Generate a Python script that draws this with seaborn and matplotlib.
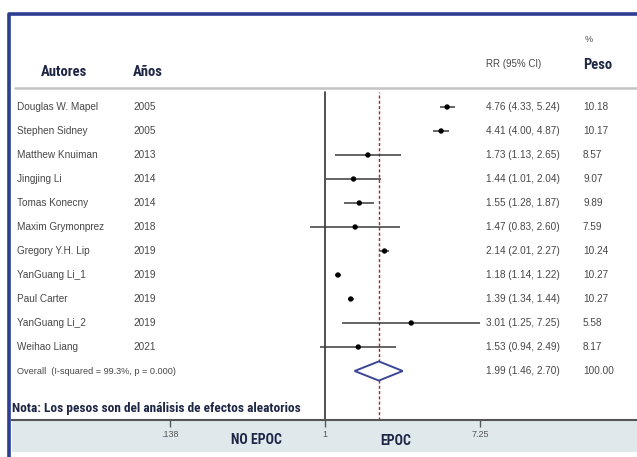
import numpy as np
import matplotlib
matplotlib.use("Agg")
import matplotlib.pyplot as plt
import seaborn as sns
from matplotlib import font_manager as fm
from matplotlib.transforms import blended_transform_factory
from matplotlib.lines import Line2D
from matplotlib.patches import Rectangle

# Study data
authors = ["Douglas W. Mapel", "Stephen Sidney", "Matthew Knuiman", "Jingjing Li",
           "Tomas Konecny", "Maxim Grymonprez", "Gregory Y.H. Lip", "YanGuang Li_1",
           "Paul Carter", "YanGuang Li_2", "Weihao Liang"]
years = ["2005", "2005", "2013", "2014", "2014", "2018", "2019", "2019", "2019", "2019", "2021"]
rr = [4.76, 4.41, 1.73, 1.44, 1.55, 1.47, 2.14, 1.18, 1.39, 3.01, 1.53]
ci_low = [4.33, 4.00, 1.13, 1.01, 1.28, 0.83, 2.01, 1.14, 1.34, 1.25, 0.94]
ci_high = [5.24, 4.87, 2.65, 2.04, 1.87, 2.60, 2.27, 1.22, 1.44, 7.25, 2.49]
weights = ["10.18", "10.17", "8.57", "9.07", "9.89", "7.59", "10.24", "10.27", "10.27", "5.58", "8.17"]

overall_label = "Overall  (I-squared = 99.3%, p = 0.000)"
overall_rr, overall_low, overall_high = 1.99, 1.46, 2.70
overall_weight = "100.00"

tick_values = [0.138, 1, 7.25]
tick_labels = [".138", "1", "7.25"]

W, H = 637, 457
sns.set_theme(style="white")
plt.rcParams["font.family"] = ["Liberation Sans", "DejaVu Sans"]

# narrowest installed family for the headings
installed = {f.name for f in fm.fontManager.ttflist}
condensed = [f for f in fm.fontManager.ttflist
             if f.stretch in ("condensed", "semi-condensed", "extra-condensed", 600, 500)
             or "Narrow" in f.name or "Condensed" in f.name]
narrow_names = ["Liberation Sans Narrow", "Roboto Condensed", "Open Sans Condensed",
                "DejaVu Sans Condensed", "Noto Sans Condensed"]
head_family = next((n for n in narrow_names if n in installed), None)
head_stretch = "normal"
if head_family is None:
    if any(f.name == "DejaVu Sans" and str(f.stretch) != "normal" for f in condensed):
        head_family, head_stretch = "DejaVu Sans", "condensed"
    else:
        head_family = "Roboto"
narrow_found = head_family != "Roboto"

fig = plt.figure(figsize=(W / 100, H / 100), dpi=100)
fig.patch.set_facecolor("white")

def fx(px):
    return px / W

def fy(py):
    return 1 - py / H

# plot area: from header rule (y=88) down to the axis line (y=420)
ax_left, ax_right, ax_top, ax_bottom = 12, 637, 88, 420
ax = fig.add_axes([fx(ax_left), fy(ax_bottom), fx(ax_right - ax_left), (ax_bottom - ax_top) / H])
ax.set_facecolor("none")
ax.set_zorder(2)

# log x scale: value 1 at x=325 px, 155 px per log(7.25)
x_null_px, px_per_span = 325, 155
k = np.log10(7.25) / px_per_span
ax.set_xscale("log")
ax.set_xlim(10 ** ((ax_left - x_null_px) * k), 10 ** ((ax_right - x_null_px) * k))

# rows: first study at y=107 px, 24 px per row
row_px0, row_step = 107, 24
n = len(authors)
rows = np.arange(1, n + 1)
overall_row = n + 1
ax.set_ylim(1 + (ax_bottom - row_px0) / row_step, 1 - (row_px0 - ax_top) / row_step)

# bottom band and frame
fig.patches.append(Rectangle((fx(12), fy(452)), fx(625), (452 - 421) / H,
                             transform=fig.transFigure, facecolor="#dfe9ec",
                             edgecolor="none", zorder=-1))
fig.lines.append(Line2D([fx(9), fx(9), fx(640)], [fy(460), fy(14), fy(14)],
                        transform=fig.transFigure, color="#2c3d94", lw=2.6, zorder=5))
fig.lines.append(Line2D([fx(15), fx(637)], [fy(88), fy(88)],
                        transform=fig.transFigure, color="#c4c4c4", lw=1.8, zorder=3))

# reference lines (start just under the header rule)
ymax_frac = 1 - 4 / (ax_bottom - ax_top)
ax.axvline(1, ymax=ymax_frac, color="#333333", lw=1.2, zorder=2)
ax.axvline(overall_rr, ymax=ymax_frac, color="#9e2a35", lw=1.0, ls=(0, (2.2, 1.6)), zorder=2)

# confidence intervals and point estimates
ax.hlines(rows, ci_low, ci_high, color="#3a3a3a", lw=1.1, zorder=3)
sns.scatterplot(x=rr, y=rows, ax=ax, color="black", s=15, edgecolor="none", zorder=4)

# pooled estimate diamond
h = 0.4
ax.fill([overall_low, overall_rr, overall_high, overall_rr],
        [overall_row, overall_row - h, overall_row, overall_row + h],
        facecolor="white", edgecolor="#3b4796", lw=1.4, zorder=4)

# axes styling
for side in ["top", "right", "left"]:
    ax.spines[side].set_visible(False)
ax.spines["bottom"].set_color("#555555")
ax.spines["bottom"].set_linewidth(1.5)
ax.set_xticks(tick_values)
ax.set_xticklabels(tick_labels)
ax.xaxis.set_minor_locator(matplotlib.ticker.NullLocator())
ax.tick_params(axis="x", direction="out", length=5, width=1, color="#555555",
               labelsize=6.5, labelcolor="#555555", pad=2, bottom=True, labelbottom=True)
ax.set_yticks([])
ax.set_xlabel("")
ax.set_ylabel("")

# text columns
tr = blended_transform_factory(fig.transFigure, ax.transData)
body = dict(fontsize=7.2, color="#474747", va="center", transform=tr)
head = dict(family=[head_family, "DejaVu Sans"], fontweight="bold", color="#1d2645",
            fontstretch=head_stretch)
hs = 1.0 if narrow_found else 0.82

for r, a, yr, v, lo, hi, w in zip(rows, authors, years, rr, ci_low, ci_high, weights):
    ax.text(fx(17), r, a, ha="left", **body)
    ax.text(fx(133), r, yr, ha="left", **body)
    ax.text(fx(486), r, f"{v:.2f} ({lo:.2f}, {hi:.2f})", ha="left", **body)
    ax.text(fx(583), r, w, ha="left", **body)

ax.text(fx(17), overall_row, overall_label, ha="left", **{**body, "fontsize": 6.6})
ax.text(fx(486), overall_row, f"{overall_rr:.2f} ({overall_low:.2f}, {overall_high:.2f})",
        ha="left", **body)
ax.text(fx(583), overall_row, overall_weight, ha="left", **body)

ax.text(fx(12), overall_row + 1.55, "Nota: Los pesos son del análisis de efectos aleatorios",
        ha="left", va="center", fontsize=9.6 * hs, transform=tr, **head)

# column headers
fig.text(fx(64), fy(72), "Autores", ha="center", va="center", fontsize=10.5 * hs, **head)
fig.text(fx(133), fy(72), "Años", ha="left", va="center", fontsize=10.5 * hs, **head)
fig.text(fx(486), fy(64), "RR (95% CI)", ha="left", va="center", fontsize=7, color="#474747")
fig.text(fx(585), fy(40), "%", ha="left", va="center", fontsize=6.5, color="#474747")
fig.text(fx(583), fy(65), "Peso", ha="left", va="center", fontsize=10.5 * hs, **head)

# direction labels
fig.text(fx(256), fy(440), "NO EPOC", ha="center", va="center", fontsize=10 * hs, **head)
fig.text(fx(396), fy(441), "EPOC", ha="center", va="center", fontsize=10 * hs, **head)

fig.savefig("out.png", dpi=100, facecolor="white")
